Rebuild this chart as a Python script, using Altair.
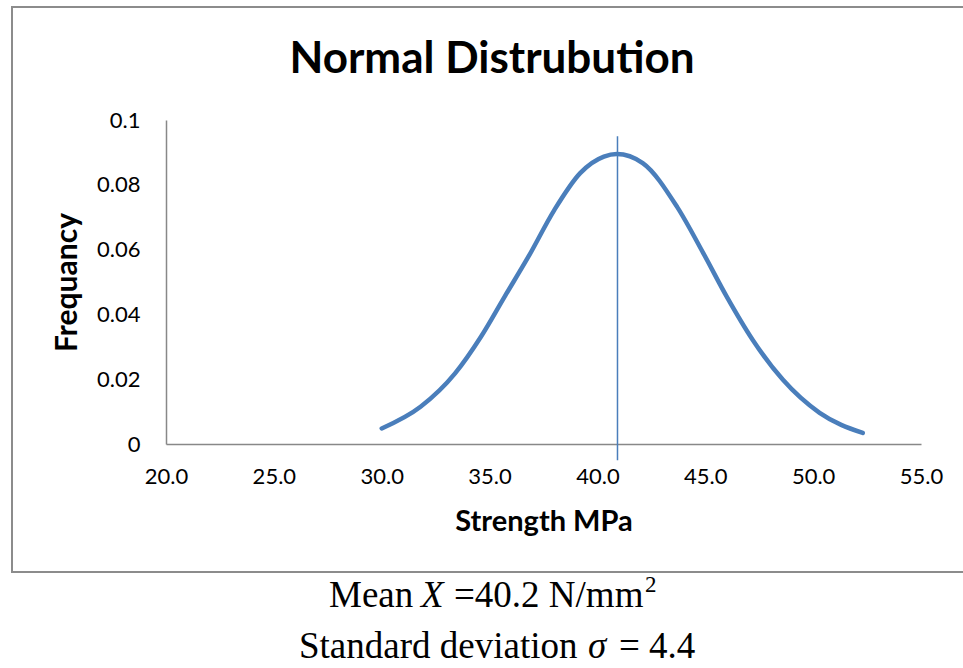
import altair as alt
import pandas as pd

# Data
strength = [30.0, 31.8, 33.4, 34.6, 35.7, 36.8, 38.0, 39.2, 40.3, 40.9,
            42.1, 43.7, 44.9, 46.0, 47.2, 48.6, 50.3, 52.3]
frequency = [0.0048, 0.0115, 0.0218, 0.0331, 0.0455, 0.0578, 0.0722, 0.0836, 0.0887, 0.0895,
             0.0867, 0.0731, 0.0590, 0.0454, 0.0321, 0.0198, 0.0096, 0.0034]
mean_line_x = [40.93]
mean_line_top = [0.095]
mean_line_bottom = [-0.005]
x_ticks = [20, 25, 30, 35, 40, 45, 50, 55]
y_ticks = [0, 0.02, 0.04, 0.06, 0.08, 0.1]

title_text = "Normal Distrubution"
x_title = "Strength MPa"
y_title = "Frequancy"

BLUE = "#4a7ebb"
W, H = 755, 324
PAD_L, PAD_T = 166, 120

curve_df = pd.DataFrame({"strength": strength, "frequency": frequency})
mean_df = pd.DataFrame({"x": mean_line_x, "y": mean_line_top, "y2": mean_line_bottom})
one = pd.DataFrame({"a": [0]})

xscale = alt.Scale(domain=[20, 55], nice=False, zero=False)
yscale = alt.Scale(domain=[0, 0.1], nice=False)

curve = alt.Chart(curve_df).mark_line(
    color=BLUE, strokeWidth=4.5, interpolate="monotone", strokeCap="round"
).encode(
    x=alt.X("strength:Q", scale=xscale,
            axis=alt.Axis(values=x_ticks, format=".1f", title=x_title, ticks=False, grid=False,
                          labelPadding=22, titlePadding=20, labelFontSize=22, titleFontSize=29,
                          labelFont="Lato", titleFont="Lato", titleFontWeight="bold",
                          labelColor="#000", titleColor="#000", domainColor="#888888",
                          domainWidth=1.5, labelFlush=False)),
    y=alt.Y("frequency:Q", scale=yscale,
            axis=alt.Axis(values=y_ticks, format=".2~f", title=y_title, ticks=False, grid=False,
                          labelPadding=26, titlePadding=14, labelFontSize=22, titleFontSize=30,
                          labelFont="Lato", titleFont="Lato", titleFontWeight="bold",
                          labelColor="#000", titleColor="#000", domainColor="#888888",
                          domainWidth=1.5)),
)

mean_rule = alt.Chart(mean_df).mark_rule(color=BLUE, strokeWidth=1.5).encode(
    x=alt.X("x:Q", scale=xscale),
    y=alt.Y("y:Q", scale=yscale),
    y2="y2:Q",
)

border = alt.Chart(one).mark_rect(fill=None, stroke="#8c8c8c", strokeWidth=2).encode(
    x=alt.value(12 - PAD_L), x2=alt.value(980 - PAD_L),
    y=alt.value(7 - PAD_T), y2=alt.value(572 - PAD_T),
)

title = alt.Chart(one).mark_text(
    text=title_text, font="Lato", fontWeight="bold", fontSize=44, color="#000",
    align="center", baseline="alphabetic"
).encode(x=alt.value(492 - PAD_L), y=alt.value(73 - PAD_T))

serif = "Liberation Serif"
def txt(s, x, y, size=37, style="normal"):
    return alt.Chart(one).mark_text(
        text=s, font=serif, fontSize=size, fontStyle=style, color="#000",
        align="left", baseline="alphabetic"
    ).encode(x=alt.value(x - PAD_L), y=alt.value(y - PAD_T))

ann = (
    txt("Mean", 329, 607)
    + txt("X", 421, 607, style="italic")
    + txt("=40.2 N/mm", 454, 607)
    + txt("2", 645, 592, size=23)
    + txt("Standard deviation", 299, 658)
    + txt("σ", 588, 658, style="italic")
    + txt("= 4.4", 619, 658)
)

chart = alt.layer(border, title, curve, mean_rule, ann).properties(
    width=W, height=H,
    background="white",
    autosize=alt.AutoSizeParams(type="none"),
    padding={"left": PAD_L, "top": PAD_T, "right": 963 - PAD_L - W, "bottom": 668 - PAD_T - H},
).configure_view(stroke="transparent", strokeWidth=0)

chart.save("out.html", embed_options={"renderer": "svg", "actions": False})
